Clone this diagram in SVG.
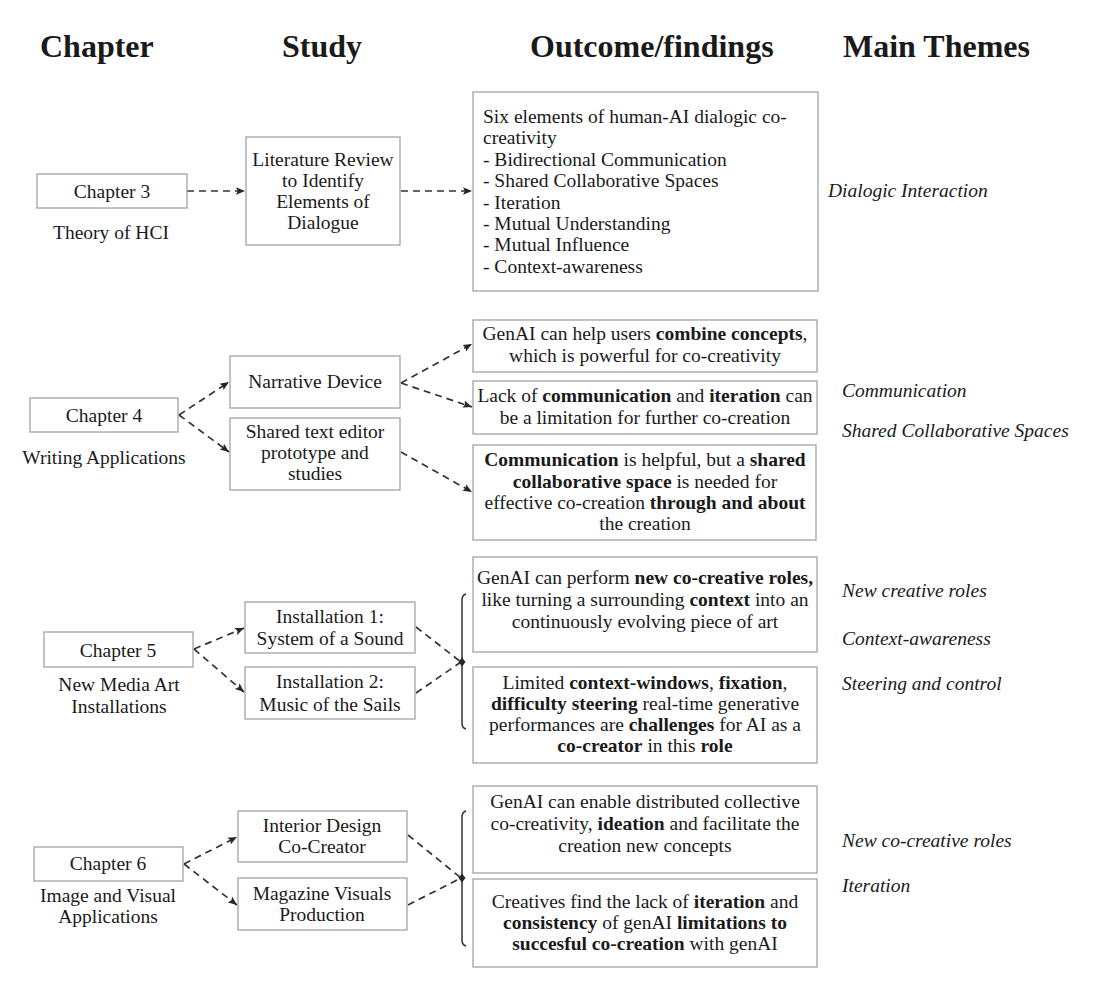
<svg xmlns="http://www.w3.org/2000/svg" width="1097" height="992" viewBox="0 0 1097 992">
<style>
text{font-family:"Liberation Serif","Times New Roman",serif;fill:#1a1a1a;font-size:19.5px}
.h{font-size:32px;font-weight:bold}
.c{text-anchor:middle}
.b{font-weight:bold}
.t{font-style:italic}
.box{fill:#fff;stroke:#a3a3a3;stroke-width:1.3}
.con{fill:none;stroke:#333;stroke-width:1.7;stroke-dasharray:7 5}
.brk{fill:none;stroke:#333;stroke-width:1.5}
</style>
<defs>
<marker id="ah" markerWidth="10" markerHeight="9" refX="9" refY="4.5" orient="auto" markerUnits="userSpaceOnUse">
<path d="M0,0.8 L9,4.5 L0,8.2 L1.8,4.5 z" fill="#262626"/>
</marker>
</defs>
<rect width="1097" height="992" fill="#fff"/>
<g id="headers">
<text class="h" x="40" y="57">Chapter</text>
<text class="h" x="282" y="57">Study</text>
<text class="h" x="530" y="57">Outcome/findings</text>
<text class="h" x="843" y="57">Main Themes</text>
</g>
<g id="connectors">
<path class="con" d="M187,191 L245,191" marker-end="url(#ah)"/>
<path class="con" d="M401,191 L472,191" marker-end="url(#ah)"/>
<path class="con" d="M179,415 L229,382" marker-end="url(#ah)"/>
<path class="con" d="M179,415 L229,452" marker-end="url(#ah)"/>
<path class="con" d="M401,383 L472,344" marker-end="url(#ah)"/>
<path class="con" d="M401,383 L472,407" marker-end="url(#ah)"/>
<path class="con" d="M401,452 L472,492" marker-end="url(#ah)"/>
<path class="con" d="M194,649 L244,628" marker-end="url(#ah)"/>
<path class="con" d="M194,649 L244,692" marker-end="url(#ah)"/>
<path class="con" d="M416,627 L461,662"/>
<path class="con" d="M416,693 L461,662"/>
<path class="con" d="M184,864 L237,837" marker-end="url(#ah)"/>
<path class="con" d="M184,864 L237,905" marker-end="url(#ah)"/>
<path class="con" d="M408,835 L461,878"/>
<path class="con" d="M408,905 L461,878"/>
<path class="brk" d="M466,594 Q462,595 462,600 L462,723 Q462,728 466,729"/>
<path d="M462,657.5 L465.5,662 L462,666.5 L458.5,662 z" fill="#262626"/>
<path class="brk" d="M466,811 Q462,812 462,817 L462,940 Q462,945 466,946"/>
<path d="M462,873.5 L465.5,878 L462,882.5 L458.5,878 z" fill="#262626"/>
</g>
<g id="ch3">
<rect class="box" x="37" y="174" width="150" height="34"/>
<text class="c" x="112" y="198">Chapter 3</text>
<text class="c" x="111" y="239">Theory of HCI</text>
</g>
<g id="lit-review">
<rect class="box" x="246" y="137" width="154" height="108"/>
<text class="c" x="323" y="166">Literature Review</text>
<text class="c" x="323" y="187">to Identify</text>
<text class="c" x="323" y="208">Elements of</text>
<text class="c" x="323" y="229">Dialogue</text>
</g>
<g id="six-elements">
<rect class="box" x="473" y="92" width="345" height="199"/>
<text x="483" y="123">Six elements of human-AI dialogic co-</text>
<text x="483" y="144.4">creativity</text>
<text x="483" y="165.8">- Bidirectional Communication</text>
<text x="483" y="187.2">- Shared Collaborative Spaces</text>
<text x="483" y="208.6">- Iteration</text>
<text x="483" y="230">- Mutual Understanding</text>
<text x="483" y="251.4">- Mutual Influence</text>
<text x="483" y="272.8">- Context-awareness</text>
</g>
<g id="ch4">
<rect class="box" x="30" y="398" width="148" height="34"/>
<text class="c" x="104" y="422">Chapter 4</text>
<text class="c" x="104" y="464">Writing Applications</text>
</g>
<g id="narrative-device">
<rect class="box" x="230" y="356" width="170" height="52"/>
<text class="c" x="315" y="388">Narrative Device</text>
</g>
<g id="shared-editor">
<rect class="box" x="230" y="418" width="170" height="72"/>
<text class="c" x="315" y="438">Shared text editor</text>
<text class="c" x="315" y="459">prototype and</text>
<text class="c" x="315" y="480">studies</text>
</g>
<g id="combine-concepts">
<rect class="box" x="473" y="320" width="344" height="52"/>
<text class="c" x="645" y="340">GenAI can help users <tspan class="b">combine concepts</tspan>,</text>
<text class="c" x="645" y="362">which is powerful for co-creativity</text>
</g>
<g id="lack-communication">
<rect class="box" x="473" y="381" width="344" height="53"/>
<text class="c" x="645" y="402">Lack of <tspan class="b">communication</tspan> and <tspan class="b">iteration</tspan> can</text>
<text class="c" x="645" y="424">be a limitation for further co-creation</text>
</g>
<g id="shared-space">
<rect class="box" x="473" y="445" width="343" height="95"/>
<text class="c" x="645" y="466"><tspan class="b">Communication</tspan> is helpful, but a <tspan class="b">shared</tspan></text>
<text class="c" x="645" y="488"><tspan class="b">collaborative space</tspan> is needed for</text>
<text class="c" x="645" y="509">effective co-creation <tspan class="b">through and about</tspan></text>
<text class="c" x="645" y="530">the creation</text>
</g>
<g id="ch5">
<rect class="box" x="44" y="632" width="149" height="35"/>
<text class="c" x="118" y="657">Chapter 5</text>
<text class="c" x="119" y="691">New Media Art</text>
<text class="c" x="119" y="713">Installations</text>
</g>
<g id="installation-1">
<rect class="box" x="245" y="602" width="170" height="51"/>
<text class="c" x="330" y="623">Installation 1:</text>
<text class="c" x="330" y="645">System of a Sound</text>
</g>
<g id="installation-2">
<rect class="box" x="245" y="667" width="170" height="52"/>
<text class="c" x="330" y="688">Installation 2:</text>
<text class="c" x="330" y="711">Music of the Sails</text>
</g>
<g id="new-roles">
<rect class="box" x="473" y="557" width="344" height="95"/>
<text class="c" x="645" y="584">GenAI can perform <tspan class="b">new co-creative roles,</tspan></text>
<text class="c" x="645" y="606">like turning a surrounding <tspan class="b">context</tspan> into an</text>
<text class="c" x="645" y="628">continuously evolving piece of art</text>
</g>
<g id="limited-context">
<rect class="box" x="473" y="667" width="344" height="96"/>
<text class="c" x="645" y="689">Limited <tspan class="b">context-windows</tspan>, <tspan class="b">fixation</tspan>,</text>
<text class="c" x="645" y="710"><tspan class="b">difficulty steering</tspan> real-time generative</text>
<text class="c" x="645" y="731">performances are <tspan class="b">challenges</tspan> for AI as a</text>
<text class="c" x="645" y="752"><tspan class="b">co-creator</tspan> in this <tspan class="b">role</tspan></text>
</g>
<g id="ch6">
<rect class="box" x="34" y="847" width="149" height="34"/>
<text class="c" x="108" y="870">Chapter 6</text>
<text class="c" x="108" y="902">Image and Visual</text>
<text class="c" x="108" y="923">Applications</text>
</g>
<g id="interior-design">
<rect class="box" x="238" y="811" width="169" height="51"/>
<text class="c" x="322" y="832">Interior Design</text>
<text class="c" x="322" y="853">Co-Creator</text>
</g>
<g id="magazine">
<rect class="box" x="238" y="878" width="169" height="52"/>
<text class="c" x="322" y="900">Magazine Visuals</text>
<text class="c" x="322" y="921">Production</text>
</g>
<g id="distributed">
<rect class="box" x="473" y="786" width="344" height="87"/>
<text class="c" x="645" y="808">GenAI can enable distributed collective</text>
<text class="c" x="645" y="830">co-creativity, <tspan class="b">ideation</tspan> and facilitate the</text>
<text class="c" x="645" y="852">creation new concepts</text>
</g>
<g id="creatives">
<rect class="box" x="473" y="879" width="344" height="88"/>
<text class="c" x="645" y="908">Creatives find the lack of <tspan class="b">iteration</tspan> and</text>
<text class="c" x="645" y="929"><tspan class="b">consistency</tspan> of genAI <tspan class="b">limitations to</tspan></text>
<text class="c" x="645" y="950"><tspan class="b">succesful co-creation</tspan> with genAI</text>
</g>
<g id="themes">
<text class="t" x="828" y="197">Dialogic Interaction</text>
<text class="t" x="842" y="397">Communication</text>
<text class="t" x="842" y="437">Shared Collaborative Spaces</text>
<text class="t" x="842" y="597">New creative roles</text>
<text class="t" x="842" y="645">Context-awareness</text>
<text class="t" x="842" y="690">Steering and control</text>
<text class="t" x="842" y="847">New co-creative roles</text>
<text class="t" x="842" y="892">Iteration</text>
</g>
</svg>
